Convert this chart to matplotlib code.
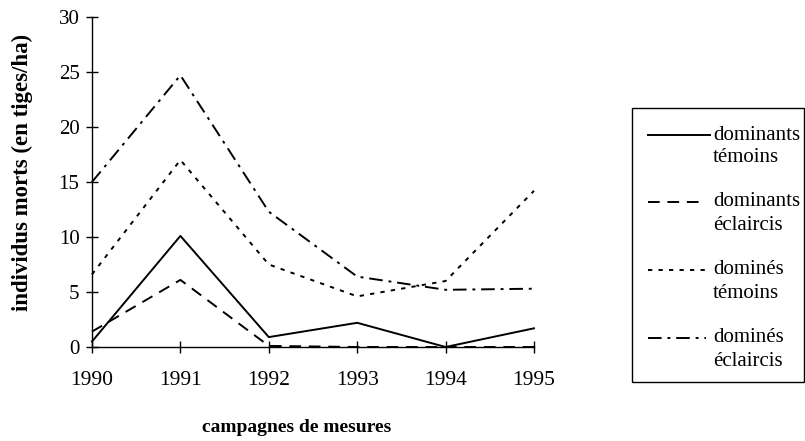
import matplotlib
matplotlib.use("Agg")
import matplotlib.pyplot as plt
from matplotlib.lines import Line2D
from matplotlib.patches import Rectangle

years = [1990, 1991, 1992, 1993, 1994, 1995]
dominants_temoins = [0.5, 10.1, 0.9, 2.2, 0.0, 1.7]
dominants_eclaircis = [1.4, 6.1, 0.1, 0.0, 0.0, 0.0]
domines_temoins = [6.6, 17.0, 7.5, 4.6, 6.0, 14.2]
domines_eclaircis = [15.0, 24.7, 12.3, 6.4, 5.2, 5.3]
labels = [("dominants", "témoins"), ("dominants", "éclaircis"),
          ("dominés", "témoins"), ("dominés", "éclaircis")]
yticks = [0, 5, 10, 15, 20, 25, 30]

plt.rcParams['font.family'] = ['Liberation Serif', 'DejaVu Serif']

W, H = 805, 441
fig = plt.figure(figsize=(W / 100, H / 100), dpi=100)
ax = fig.add_axes([92 / W, 1 - 347 / H, (534 - 92) / W, (347 - 17) / H])

styles = [
    dict(linestyle='-'),
    dict(linestyle=(0, (6, 4))),
    dict(linestyle=(0, (2.2, 3.2))),
    dict(linestyle=(0, (7, 3, 1.5, 3))),
]
series = [dominants_temoins, dominants_eclaircis, domines_temoins, domines_eclaircis]
for s, st in zip(series, styles):
    ax.plot(years, s, color='black', lw=1.4, clip_on=False, **st)

ax.set_xlim(1990, 1995)
ax.set_ylim(0, 30)
ax.set_xticks(years)
ax.set_yticks(yticks)
for sp in ['top', 'right']:
    ax.spines[sp].set_visible(False)
for sp in ['left', 'bottom']:
    ax.spines[sp].set_linewidth(1.0)
ax.tick_params(axis='both', direction='inout', length=8, width=1.0, colors='black')
ax.tick_params(axis='x', labelsize=15.5, pad=13)
ax.tick_params(axis='y', labelsize=15, pad=5)

fig.text(22 / W, 1 - 172 / H, "individus morts (en tiges/ha)", rotation=90,
         ha='center', va='center', fontsize=16.5, fontweight='bold')
fig.text(297 / W, 1 - 428 / H, "campagnes de mesures", ha='center', va='center',
         fontsize=14, fontweight='bold')

# legend box
fig.add_artist(Rectangle((632 / W, 1 - 382 / H), (804 - 632) / W, (382 - 108) / H,
                         transform=fig.transFigure, fill=False, lw=1.0, ec='black'))
ys = [135, 202, 270, 338]
ends = [710, 703, 708, 706]
for (l1, l2), st, yy, xe in zip(labels, styles, ys, ends):
    fig.add_artist(Line2D([648 / W, xe / W], [1 - yy / H, 1 - yy / H],
                          transform=fig.transFigure, color='black', lw=1.4, **st))
    fig.text(713 / W, 1 - yy / H, l1, ha='left', va='center', fontsize=15)
    fig.text(713 / W, 1 - (yy + 23) / H, l2, ha='left', va='center', fontsize=15)

fig.savefig("out.png", dpi=100)
